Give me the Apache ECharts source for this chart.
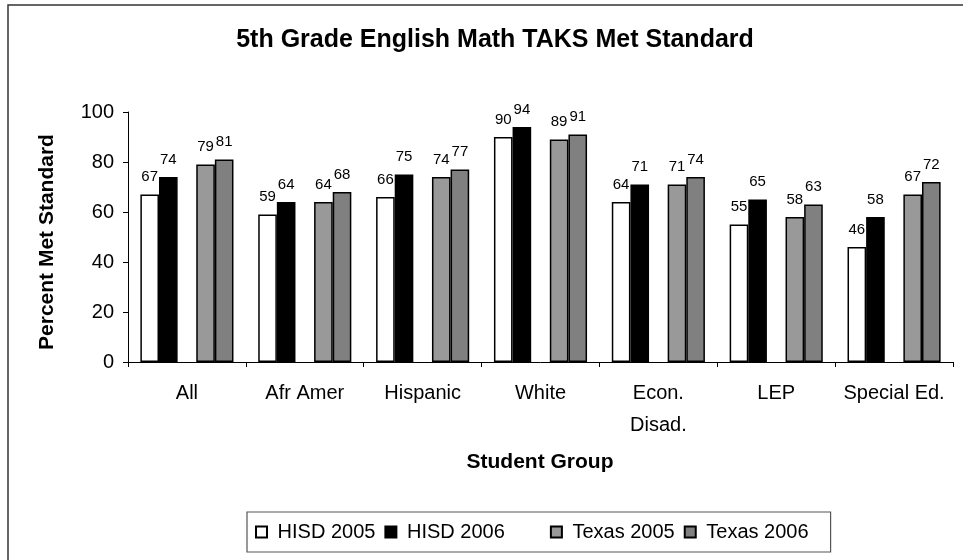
<!DOCTYPE html>
<html>
<head>
<meta charset="utf-8">
<script src="https://cdn.jsdelivr.net/npm/echarts@6/dist/echarts.min.js"></script>
<style>
html,body{margin:0;padding:0;background:#fff;}
#chart{width:963px;height:560px;}
</style>
</head>
<body>
<div id="chart"></div>
<script>
var categories = ['All', 'Afr Amer', 'Hispanic', 'White', 'Econ.\nDisad.', 'LEP', 'Special Ed.'];
var hisd2005 = [67, 59, 66, 90, 64, 55, 46];
var hisd2006 = [74, 64, 75, 94, 71, 65, 58];
var texas2005 = [79, 64, 74, 89, 71, 58, 67];
var texas2006 = [81, 68, 77, 91, 74, 63, 72];
var yTicks = [0, 20, 40, 60, 80, 100];

var FONT = 'Liberation Sans, Arial, sans-serif';

function barSeries(name, data, color) {
  return {
    name: name,
    type: 'bar',
    data: data,
    barGap: '0%',
    barCategoryGap: '21%',
    itemStyle: { color: color, borderColor: '#000', borderWidth: 1.5 },
    label: {
      show: true, position: 'top', distance: 10,
      fontFamily: FONT, fontSize: 15, color: '#000'
    }
  };
}

var chart = echarts.init(document.getElementById('chart'), null, { renderer: 'canvas' });
chart.setOption({
  animation: false,
  backgroundColor: '#fff',
  title: {
    text: '5th Grade English Math TAKS Met Standard',
    left: 490, top: 23, textAlign: 'center',
    textStyle: { fontFamily: FONT, fontSize: 25, fontWeight: 'bold', color: '#000' }
  },
  graphic: [
    { type: 'rect', shape: { x: 8, y: 5, width: 1000, height: 1000 }, style: { fill: 'none', stroke: '#333', lineWidth: 1.5 }, silent: true },
    { type: 'text', x: 47, y: 242, rotation: Math.PI / 2,
      style: { text: 'Percent Met Standard', font: 'bold 21px ' + FONT, fill: '#000', align: 'center', verticalAlign: 'middle', textAlign: 'center', textVerticalAlign: 'middle' } },
    { type: 'text', x: 540, y: 462,
      style: { text: 'Student Group', font: 'bold 21px ' + FONT, fill: '#000', align: 'center', verticalAlign: 'middle', textAlign: 'center', textVerticalAlign: 'middle' } }
  ],
  legend: {
    left: 247, top: 512,
    padding: [10, 22, 10, 8],
    borderColor: '#555', borderWidth: 1.2,
    itemWidth: 11, itemHeight: 11, itemGap: 9,
    formatter: function (name) { return ' ' + name; },
    textStyle: { fontFamily: FONT, fontSize: 20, color: '#000' },
    data: [
      { name: 'HISD 2005', icon: 'rect' },
      { name: 'HISD 2006', icon: 'rect' },
      { name: ' ', icon: 'none' },
      { name: 'Texas 2005', icon: 'rect' },
      { name: 'Texas 2006', icon: 'rect' }
    ]
  },
  grid: { left: 128, right: 10, top: 112, bottom: 198, containLabel: false },
  xAxis: {
    type: 'category',
    data: categories,
    boundaryGap: true,
    axisLine: { lineStyle: { color: '#000', width: 1 } },
    axisTick: { show: true, length: 5, alignWithLabel: false, lineStyle: { color: '#000' } },
    axisLabel: { fontFamily: FONT, fontSize: 20, color: '#000', margin: 15, lineHeight: 32, interval: 0 }
  },
  yAxis: {
    type: 'value',
    min: yTicks[0], max: yTicks[yTicks.length - 1], interval: 20,
    axisLine: { show: true, lineStyle: { color: '#000', width: 1 } },
    axisTick: { show: true, length: 5, inside: false, lineStyle: { color: '#000' } },
    splitLine: { show: false },
    axisLabel: { fontFamily: FONT, fontSize: 20, color: '#000', margin: 14 }
  },
  series: [
    barSeries('HISD 2005', hisd2005, '#ffffff'),
    barSeries('HISD 2006', hisd2006, '#000000'),
    { name: ' ', type: 'bar', data: [], barGap: '0%', barCategoryGap: '21%', itemStyle: { color: 'rgba(0,0,0,0)' } },
    barSeries('Texas 2005', texas2005, '#999999'),
    barSeries('Texas 2006', texas2006, '#808080')
  ]
});
</script>
</body>
</html>
